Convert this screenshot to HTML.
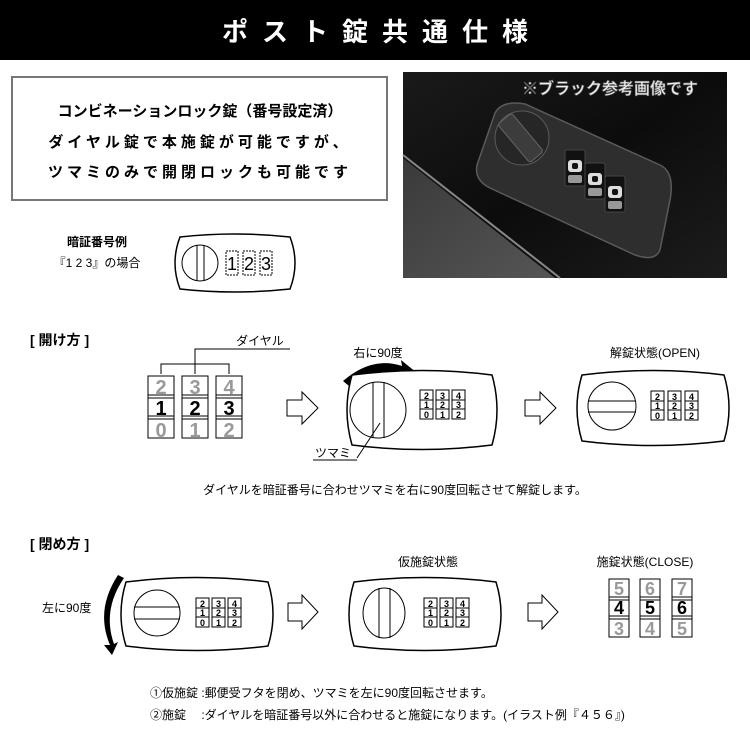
<!DOCTYPE html>
<html><head><meta charset="utf-8">
<style>
html,body{margin:0;padding:0;background:#fff;}
svg{display:block;font-family:"Liberation Sans","Noto Sans CJK JP",sans-serif;}
</style></head><body>
<svg width="750" height="750" viewBox="0 0 750 750" xmlns="http://www.w3.org/2000/svg">
<defs>
<linearGradient id="ph" x1="0" y1="0" x2="1" y2="1">
<stop offset="0" stop-color="#1a1a1a"/><stop offset="0.5" stop-color="#0c0c0c"/><stop offset="1" stop-color="#1c1c1c"/>
</linearGradient>
<linearGradient id="pl" x1="0" y1="0" x2="1" y2="1">
<stop offset="0" stop-color="#3a3a3a"/><stop offset="1" stop-color="#555"/>
</linearGradient>
<g id="mini">
<rect x="0" y="0" width="13" height="29" fill="#fff" stroke="#000" stroke-width="1"/>
<line x1="0" y1="10" x2="13" y2="10" stroke="#000"/><line x1="0" y1="19" x2="13" y2="19" stroke="#000"/>
</g>
<g id="pd">
<rect x="0" y="0" width="20" height="36" rx="2" fill="#111" stroke="#444"/>
<rect x="3" y="10" width="14" height="12" rx="3" fill="#ddd"/>
<rect x="7" y="13" width="6" height="6" rx="2" fill="#111"/>
<rect x="3" y="25" width="14" height="8" rx="2" fill="#999"/>
</g>
</defs>
<!-- header -->
<rect x="0" y="0" width="750" height="60" fill="#000"/>
<text x="382" y="41" fill="#fff" font-size="26" font-weight="bold" text-anchor="middle" letter-spacing="14">ポスト錠共通仕様</text>
<!-- info box -->
<rect x="12" y="77" width="375" height="123" fill="#fff" stroke="#777" stroke-width="2"/>
<text x="200" y="116" font-size="15" font-weight="bold" text-anchor="middle">コンビネーションロック錠（番号設定済）</text>
<text x="200" y="147" font-size="15" font-weight="bold" text-anchor="middle" letter-spacing="4">ダイヤル錠で本施錠が可能ですが、</text>
<text x="200" y="177" font-size="15" font-weight="bold" text-anchor="middle" letter-spacing="4">ツマミのみで開閉ロックも可能です</text>
<!-- photo -->
<rect x="403" y="72" width="324" height="206" fill="url(#ph)"/>
<polygon points="403,158 555,278 403,278" fill="url(#pl)"/>
<path d="M403,155 L560,278" stroke="#888" stroke-width="2"/>
<path d="M495,113 Q502,100 525,104 L660,165 Q675,172 670,200 L660,250 Q655,262 635,255 L490,188 Q474,180 477,165 Z" fill="#2e2e2e" stroke="#5a5a5a" stroke-width="1.5"/>
<circle cx="522" cy="138" r="27" fill="#262626" stroke="#5a5a5a"/>
<rect x="512" y="112" width="18" height="50" rx="3" fill="#3c3c3c" stroke="#666" transform="rotate(-40 522 138)"/>
<use href="#pd" x="565" y="150"/><use href="#pd" x="585" y="163"/><use href="#pd" x="605" y="176"/>
<text x="610" y="94" fill="#eee" font-size="16" font-weight="bold" text-anchor="middle" stroke="#666" stroke-width="0.6">※ブラック参考画像です</text>
<!-- example -->
<text x="97" y="246" font-size="12" font-weight="bold" text-anchor="middle">暗証番号例</text>
<text x="97" y="267" font-size="12" text-anchor="middle">『1 2 3』の場合</text>
<path d="M180,237 Q234,231 290,237 Q300,263 290,289 Q234,295 180,289 Q170,263 180,237 Z" fill="#fff" stroke="#000" stroke-width="1.5"/>
<circle cx="200" cy="263" r="18" fill="#fff" stroke="#000"/>
<line x1="197" y1="245" x2="197" y2="281" stroke="#000"/><line x1="204" y1="245" x2="204" y2="281" stroke="#000"/>
<g font-size="18" text-anchor="middle">
<rect x="226" y="251" width="12" height="24" fill="none" stroke="#000" stroke-dasharray="2,1"/><text x="232" y="270">1</text>
<rect x="243" y="251" width="12" height="24" fill="none" stroke="#000" stroke-dasharray="2,1"/><text x="249" y="270">2</text>
<rect x="260" y="251" width="12" height="24" fill="none" stroke="#000" stroke-dasharray="2,1"/><text x="266" y="270">3</text>
</g>
<!-- open section -->
<text x="30" y="345" font-size="14" font-weight="bold">[ 開け方 ]</text>
<text x="260" y="345" font-size="12" text-anchor="middle">ダイヤル</text>
<polyline points="290,349 195,349 195,374" fill="none" stroke="#000"/>
<polyline points="161,374 161,364 229,364 229,374" fill="none" stroke="#000"/>
<g font-size="20" font-weight="bold" text-anchor="middle">
<rect x="148" y="376" width="26" height="62" fill="#fff" stroke="#000"/>
<rect x="182" y="376" width="26" height="62" fill="#fff" stroke="#000"/>
<rect x="216" y="376" width="26" height="62" fill="#fff" stroke="#000"/>
<g stroke="#000"><line x1="148" y1="395" x2="174" y2="395"/><line x1="148" y1="398" x2="174" y2="398"/><line x1="148" y1="416" x2="174" y2="416"/><line x1="148" y1="419" x2="174" y2="419"/>
<line x1="182" y1="395" x2="208" y2="395"/><line x1="182" y1="398" x2="208" y2="398"/><line x1="182" y1="416" x2="208" y2="416"/><line x1="182" y1="419" x2="208" y2="419"/>
<line x1="216" y1="395" x2="242" y2="395"/><line x1="216" y1="398" x2="242" y2="398"/><line x1="216" y1="416" x2="242" y2="416"/><line x1="216" y1="419" x2="242" y2="419"/></g>
<text x="161" y="394" fill="#999">2</text><text x="161" y="415">1</text><text x="161" y="437" fill="#999">0</text>
<text x="195" y="394" fill="#999">3</text><text x="195" y="415">2</text><text x="195" y="437" fill="#999">1</text>
<text x="229" y="394" fill="#999">4</text><text x="229" y="415">3</text><text x="229" y="437" fill="#999">2</text>
</g>
<path d="M287,400 H302 V392 L318,408 L302,424 V416 H287 Z" fill="#fff" stroke="#000"/>
<text x="378" y="357" font-size="12" text-anchor="middle">右に90度</text>
<path d="M343,381 Q372,356 402,366 L401,360 L417,373 L399,381 L401,375 Q375,366 349,386 Z" fill="#000"/>
<path d="M352,375 Q422,366 492,375 Q502,410 492,445 Q422,454 352,445 Q342,410 352,375 Z" fill="#fff" stroke="#000" stroke-width="1.5"/>
<circle cx="378" cy="410" r="28" fill="#fff" stroke="#000"/>
<line x1="373" y1="382" x2="373" y2="438" stroke="#000"/><line x1="384" y1="382" x2="384" y2="438" stroke="#000"/>
<line x1="380" y1="423" x2="357" y2="458" stroke="#000"/>
<text x="315" y="457" font-size="12">ツマミ</text>
<line x1="313" y1="460" x2="357" y2="460" stroke="#000"/>
<g font-size="9" font-weight="bold" text-anchor="middle">
<use href="#mini" x="420" y="390"/><use href="#mini" x="436" y="390"/><use href="#mini" x="452" y="390"/>
<text x="426.5" y="399">2</text><text x="426.5" y="408">1</text><text x="426.5" y="418">0</text>
<text x="442.5" y="399">3</text><text x="442.5" y="408">2</text><text x="442.5" y="418">1</text>
<text x="458.5" y="399">4</text><text x="458.5" y="408">3</text><text x="458.5" y="418">2</text>
</g>
<path d="M525,400 H540 V392 L556,408 L540,424 V416 H525 Z" fill="#fff" stroke="#000"/>
<text x="655" y="357" font-size="12" text-anchor="middle">解錠状態(OPEN)</text>
<path d="M582,375 Q653,366 724,375 Q734,408 724,441 Q653,450 582,441 Q572,408 582,375 Z" fill="#fff" stroke="#000" stroke-width="1.5"/>
<circle cx="612" cy="406" r="24" fill="#fff" stroke="#000"/>
<line x1="588" y1="401" x2="636" y2="401" stroke="#000"/><line x1="588" y1="412" x2="636" y2="412" stroke="#000"/>
<g font-size="9" font-weight="bold" text-anchor="middle">
<use href="#mini" x="651" y="391"/><use href="#mini" x="668" y="391"/><use href="#mini" x="685" y="391"/>
<text x="657.5" y="400">2</text><text x="657.5" y="409">1</text><text x="657.5" y="419">0</text>
<text x="674.5" y="400">3</text><text x="674.5" y="409">2</text><text x="674.5" y="419">1</text>
<text x="691.5" y="400">4</text><text x="691.5" y="409">3</text><text x="691.5" y="419">2</text>
</g>
<text x="395" y="494" font-size="12" text-anchor="middle">ダイヤルを暗証番号に合わせツマミを右に90度回転させて解錠します。</text>
<!-- close section -->
<text x="30" y="549" font-size="14" font-weight="bold">[ 閉め方 ]</text>
<text x="42" y="612" font-size="12">左に90度</text>
<path d="M118,575 Q95,610 110,645 L104,645 L112,655 L118,642 L114,644 Q102,610 124,578 Z" fill="#000"/>
<path d="M126,582 Q196,573 268,582 Q278,614 268,646 Q196,655 126,646 Q116,614 126,582 Z" fill="#fff" stroke="#000" stroke-width="1.5"/>
<circle cx="157" cy="613" r="23" fill="#fff" stroke="#000"/>
<line x1="134" y1="607" x2="180" y2="607" stroke="#000"/><line x1="134" y1="619" x2="180" y2="619" stroke="#000"/>
<g font-size="9" font-weight="bold" text-anchor="middle">
<use href="#mini" x="196" y="598"/><use href="#mini" x="212" y="598"/><use href="#mini" x="228" y="598"/>
<text x="202.5" y="607">2</text><text x="202.5" y="616">1</text><text x="202.5" y="626">0</text>
<text x="218.5" y="607">3</text><text x="218.5" y="616">2</text><text x="218.5" y="626">1</text>
<text x="234.5" y="607">4</text><text x="234.5" y="616">3</text><text x="234.5" y="626">2</text>
</g>
<path d="M288,603 H302 V595 L318,612 L302,629 V621 H288 Z" fill="#fff" stroke="#000"/>
<text x="428" y="566" font-size="12" text-anchor="middle">仮施錠状態</text>
<path d="M354,582 Q424,573 496,582 Q506,614 496,646 Q424,655 354,646 Q344,614 354,582 Z" fill="#fff" stroke="#000" stroke-width="1.5"/>
<ellipse cx="384" cy="613" rx="21" ry="25" fill="#fff" stroke="#000"/>
<line x1="379" y1="588" x2="379" y2="638" stroke="#000"/><line x1="390" y1="588" x2="390" y2="638" stroke="#000"/>
<g font-size="9" font-weight="bold" text-anchor="middle">
<use href="#mini" x="424" y="598"/><use href="#mini" x="440" y="598"/><use href="#mini" x="456" y="598"/>
<text x="430.5" y="607">2</text><text x="430.5" y="616">1</text><text x="430.5" y="626">0</text>
<text x="446.5" y="607">3</text><text x="446.5" y="616">2</text><text x="446.5" y="626">1</text>
<text x="462.5" y="607">4</text><text x="462.5" y="616">3</text><text x="462.5" y="626">2</text>
</g>
<path d="M528,603 H542 V595 L558,612 L542,629 V621 H528 Z" fill="#fff" stroke="#000"/>
<text x="645" y="566" font-size="12" text-anchor="middle">施錠状態(CLOSE)</text>
<g font-size="18" font-weight="bold" text-anchor="middle">
<rect x="609" y="579" width="20" height="58" fill="#fff" stroke="#000"/>
<rect x="640" y="579" width="20" height="58" fill="#fff" stroke="#000"/>
<rect x="672" y="579" width="20" height="58" fill="#fff" stroke="#000"/>
<g stroke="#000"><line x1="609" y1="597" x2="629" y2="597"/><line x1="609" y1="600" x2="629" y2="600"/><line x1="609" y1="616" x2="629" y2="616"/><line x1="609" y1="619" x2="629" y2="619"/>
<line x1="640" y1="597" x2="660" y2="597"/><line x1="640" y1="600" x2="660" y2="600"/><line x1="640" y1="616" x2="660" y2="616"/><line x1="640" y1="619" x2="660" y2="619"/>
<line x1="672" y1="597" x2="692" y2="597"/><line x1="672" y1="600" x2="692" y2="600"/><line x1="672" y1="616" x2="692" y2="616"/><line x1="672" y1="619" x2="692" y2="619"/></g>
<text x="619" y="595" fill="#999">5</text><text x="619" y="614">4</text><text x="619" y="635" fill="#999">3</text>
<text x="650" y="595" fill="#999">6</text><text x="650" y="614">5</text><text x="650" y="635" fill="#999">4</text>
<text x="682" y="595" fill="#999">7</text><text x="682" y="614">6</text><text x="682" y="635" fill="#999">5</text>
</g>
<text x="150" y="697" font-size="12">①仮施錠 :郵便受フタを閉め、ツマミを左に90度回転させます。</text>
<text x="150" y="719" font-size="12">②施錠　 :ダイヤルを暗証番号以外に合わせると施錠になります。(イラスト例『４５６』)</text>
</svg>
</body></html>
